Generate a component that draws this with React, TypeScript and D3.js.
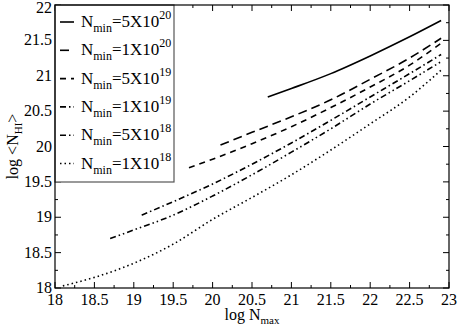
import * as d3 from "d3";

const W = 458;
const H = 327;
const M = { top: 5, right: 9, bottom: 39, left: 55 };

const FONT = "'Liberation Serif', 'Times New Roman', serif";

// legend labels (mantissa, exponent)
const seriesMant = ["5X10", "1X10", "5X10", "1X10", "5X10", "1X10"];
const seriesExp = ["20", "20", "19", "19", "18", "18"];
const seriesDash = ["", "9,5", "6,5", "6,3,1.5,3", "6,3,1.5,3,1.5,3", "1.5,3"];

// log N_max values per series
const xs20a = [20.7, 21.0, 21.5, 22.0, 22.5, 22.9];
const ys20a = [20.7, 20.82, 21.03, 21.28, 21.55, 21.78];
const xs20b = [20.1, 20.5, 21.0, 21.5, 22.0, 22.5, 22.9];
const ys20b = [20.02, 20.2, 20.42, 20.66, 20.95, 21.25, 21.53];
const xs19a = [19.7, 20.0, 20.5, 21.0, 21.5, 22.0, 22.5, 22.9];
const ys19a = [19.7, 19.82, 20.04, 20.28, 20.55, 20.84, 21.15, 21.46];
const xs19b = [19.1, 19.5, 20.0, 20.5, 21.0, 21.5, 22.0, 22.5, 22.9];
const ys19b = [19.03, 19.22, 19.47, 19.75, 20.05, 20.37, 20.7, 21.03, 21.3];
const xs18a = [18.7, 19.0, 19.5, 20.0, 20.5, 21.0, 21.5, 22.0, 22.5, 22.9];
const ys18a = [18.7, 18.82, 19.03, 19.3, 19.6, 19.92, 20.25, 20.6, 20.93, 21.2];
const xs18b = [18.1, 18.5, 19.0, 19.5, 20.0, 20.5, 21.0, 21.5, 22.0, 22.5, 22.9];
const ys18b = [18.03, 18.15, 18.35, 18.62, 18.97, 19.28, 19.6, 19.95, 20.32, 20.7, 21.08];

const seriesX = [xs20a, xs20b, xs19a, xs19b, xs18a, xs18b];
const seriesY = [ys20a, ys20b, ys19a, ys19b, ys18a, ys18b];

const xTicks = [18, 18.5, 19, 19.5, 20, 20.5, 21, 21.5, 22, 22.5, 23];
const yTicks = [18, 18.5, 19, 19.5, 20, 20.5, 21, 21.5, 22];

export default function App() {
  const x = d3.scaleLinear().domain([18, 23]).range([M.left, W - M.right]);
  const y = d3.scaleLinear().domain([18, 22]).range([H - M.bottom, M.top]);
  const line = d3
    .line<[number, number]>()
    .x((d) => x(d[0]))
    .y((d) => y(d[1]))
    .curve(d3.curveMonotoneX);

  const xMinor = d3.range(18.25, 23, 0.5);
  const yMinor = d3.range(18.25, 22, 0.5);
  const x0 = M.left, x1 = W - M.right, y0 = H - M.bottom, y1 = M.top;

  const legX = x0;
  const legY = y1;
  const legW = 119;
  const legH = 177;
  const rowH = 28.3;

  return (
    <svg
      width={W}
      height={H}
      style={{ position: "absolute", left: 0, top: 0, background: "#fff" }}
      fontFamily={FONT}
    >
      {/* curves */}
      {seriesX.map((xsArr, i) => (
        <path
          key={i}
          d={line(xsArr.map((v, j) => [v, seriesY[i][j]]) as [number, number][]) || ""}
          fill="none"
          stroke="#000"
          strokeWidth={1.6}
          strokeDasharray={seriesDash[i] || undefined}
        />
      ))}

      {/* ticks, inward on all sides */}
      {xTicks.map((t) => (
        <g key={"xt" + t}>
          <line x1={x(t)} x2={x(t)} y1={y0} y2={y0 - 6} stroke="#000" />
          <line x1={x(t)} x2={x(t)} y1={y1} y2={y1 + 6} stroke="#000" />
          <text x={x(t)} y={y0 + 17} textAnchor="middle" fontSize={16}>
            {t}
          </text>
        </g>
      ))}
      {xMinor.map((t) => (
        <g key={"xm" + t}>
          <line x1={x(t)} x2={x(t)} y1={y0} y2={y0 - 3} stroke="#000" />
          <line x1={x(t)} x2={x(t)} y1={y1} y2={y1 + 3} stroke="#000" />
        </g>
      ))}
      {yTicks.map((t) => (
        <g key={"yt" + t}>
          <line x1={x0} x2={x0 + 6} y1={y(t)} y2={y(t)} stroke="#000" />
          <line x1={x1} x2={x1 - 6} y1={y(t)} y2={y(t)} stroke="#000" />
          <text x={x0 - 3} y={Math.max(y(t) + 5, 13)} textAnchor="end" fontSize={16}>
            {t}
          </text>
        </g>
      ))}
      {yMinor.map((t) => (
        <g key={"ym" + t}>
          <line x1={x0} x2={x0 + 3} y1={y(t)} y2={y(t)} stroke="#000" />
          <line x1={x1} x2={x1 - 3} y1={y(t)} y2={y(t)} stroke="#000" />
        </g>
      ))}

      {/* legend */}
      <rect x={legX} y={legY} width={legW} height={legH} fill="#fff" stroke="#555" strokeWidth={1.2} />
      {seriesMant.map((m, i) => {
        const cy = legY + 17 + i * rowH;
        return (
          <g key={"lg" + i}>
            <line
              x1={legX + 5}
              x2={legX + 19}
              y1={cy}
              y2={cy}
              stroke="#000"
              strokeWidth={1.6}
              strokeDasharray={seriesDash[i] || undefined}
            />
            <text x={legX + 26} y={cy + 5} fontSize={17}>
              N
              <tspan fontSize={12} dy={5}>min</tspan>
              <tspan dy={-5}>={m}</tspan>
              <tspan fontSize={12} dy={-8}>{seriesExp[i]}</tspan>
            </text>
          </g>
        );
      })}

      {/* frame */}
      <rect x={x0} y={y1} width={x1 - x0} height={y0 - y1} fill="none" stroke="#000" strokeWidth={1.2} />

      {/* axis titles */}
      <text x={(x0 + x1) / 2} y={H - 7} textAnchor="middle" fontSize={16}>
        log N<tspan fontSize={11} dy={4}>max</tspan>
      </text>
      <text
        transform={`translate(18, ${(y0 + y1) / 2}) rotate(-90)`}
        textAnchor="middle"
        fontSize={16}
      >
        log &lt;N<tspan fontSize={11} dy={4}>HI</tspan>
        <tspan dy={-4}>&gt;</tspan>
      </text>
    </svg>
  );
}
